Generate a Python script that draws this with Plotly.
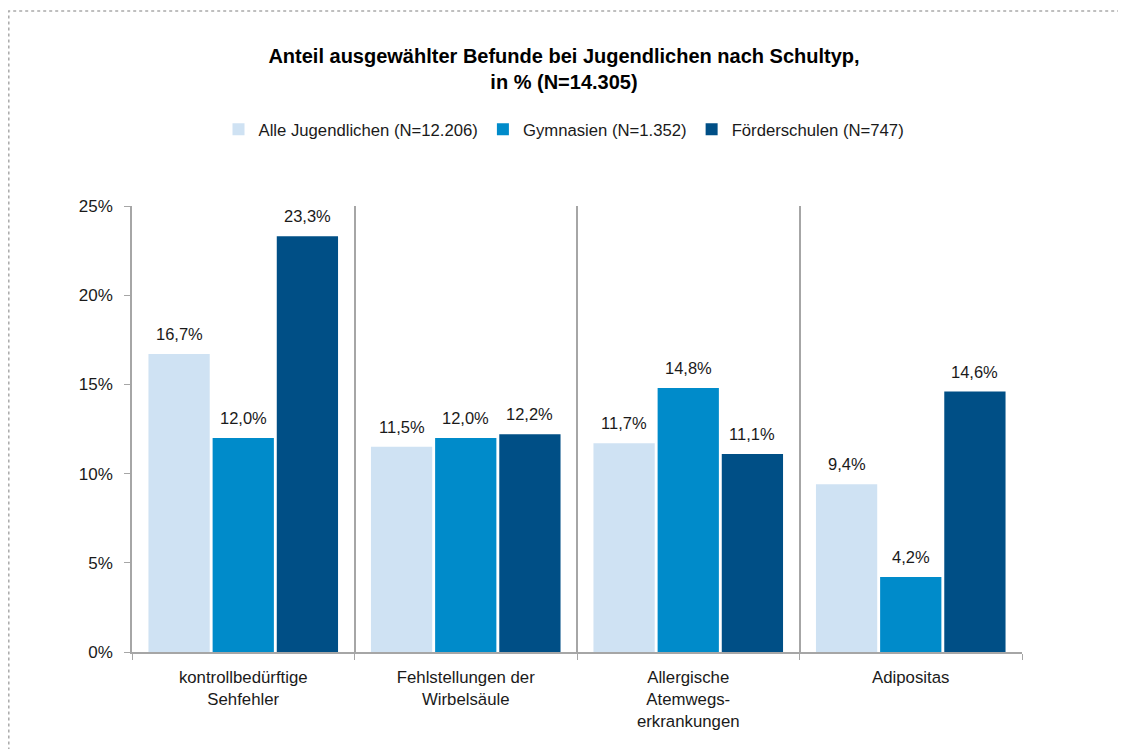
import plotly.graph_objects as go

categories = ["kontrollbedürftige<br>Sehfehler", "Fehlstellungen der<br>Wirbelsäule",
              "Allergische<br>Atemwegs-<br>erkrankungen", "Adipositas"]
series_names = ["Alle Jugendlichen (N=12.206)", "Gymnasien (N=1.352)", "Förderschulen (N=747)"]
alle = [16.7, 11.5, 11.7, 9.4]
gymnasien = [12.0, 12.0, 14.8, 4.2]
foerder = [23.3, 12.2, 11.1, 14.6]
colors = ["#CFE2F3", "#008BCA", "#004F86"]
y_ticks = [0, 5, 10, 15, 20, 25]
y_ticktext = ["0%", "5%", "10%", "15%", "20%", "25%"]

FONT = "Liberation Sans Narrow, Arial Narrow, Liberation Sans, Arial, sans-serif"

# page offset of 8px (body margin) compensated
OFF = 8
W, H = 1118, 741
L, T = 132 - OFF, 206 - OFF
R = W - (1022 - OFF)
B = H - (652 - OFF)
pw, ph = W - L - R, H - T - B
BARGAP = 0.135
series = [alle, gymnasien, foerder]

def px_x(px):
    return (px - OFF - L) / pw

def px_y(py):
    return (H - B - (py - OFF)) / ph

fig = go.Figure()
for name, vals, col in zip(series_names, series, colors):
    fig.add_trace(go.Bar(
        x=categories, y=vals, name=name, marker=dict(color=col, line=dict(width=0)),
    ))

# value labels above bars (slot width derived from the layout geometry)
slot = pw / len(categories) * (1 - BARGAP) / len(series)
for i, vals in enumerate(series):
    for cat, v in zip(categories, vals):
        fig.add_annotation(x=cat, y=v, xref="x", yref="y",
                           text=f"{v:.1f}%".replace(".", ","), showarrow=False,
                           xshift=(i - (len(series) - 1) / 2) * slot, yshift=9,
                           yanchor="bottom", font=dict(size=16.5, family=FONT, color="#1a1a1a"))

fig.add_shape(type="rect", xref="paper", yref="paper",
              x0=px_x(8.8), x1=px_x(1160),
              y0=px_y(800), y1=px_y(11),
              line=dict(color="#AAAAAA", width=1.5, dash="dot"), fillcolor="rgba(0,0,0,0)",
              layer="below")

fig.update_layout(
    width=W, height=H,
    margin=dict(l=L, r=R, t=T, b=B, autoexpand=False),
    paper_bgcolor="white", plot_bgcolor="white",
    separators=",.",
    font=dict(family=FONT, size=16, color="#1a1a1a"),
    title=dict(text="<b>Anteil ausgewählter Befunde bei Jugendlichen nach Schultyp,<br>in % (N=14.305)</b>",
               x=(564 - OFF) / W, xref="container", xanchor="center",
               y=1 - (63 - OFF) / H, yanchor="top",
               font=dict(size=20, family=FONT, color="#000000")),
    barmode="group", bargap=BARGAP, bargroupgap=0.045,
    legend=dict(orientation="h", x=(564 - OFF) / W, xref="container", xanchor="center",
                y=px_y(112), yanchor="top",
                font=dict(size=16.7, family=FONT), itemwidth=30,
                traceorder="normal", itemsizing="constant"),
    xaxis=dict(showline=True, linecolor="#A6A6A6", linewidth=1.5,
               tickson="boundaries", ticks="outside", ticklen=6, tickcolor="#A6A6A6",
               showgrid=True, gridcolor="#A6A6A6", gridwidth=1.5, ticklabelstandoff=9,
               tickfont=dict(size=16.8, family=FONT)),
    yaxis=dict(range=[0, 25], tickmode="array", tickvals=y_ticks, ticktext=y_ticktext,
               showline=True, linecolor="#A6A6A6", linewidth=1.5,
               ticks="outside", ticklen=6, tickcolor="#A6A6A6", ticklabelstandoff=8,
               showgrid=False, zeroline=False, tickfont=dict(size=17, family=FONT)),
)

fig.write_html("out.html")
